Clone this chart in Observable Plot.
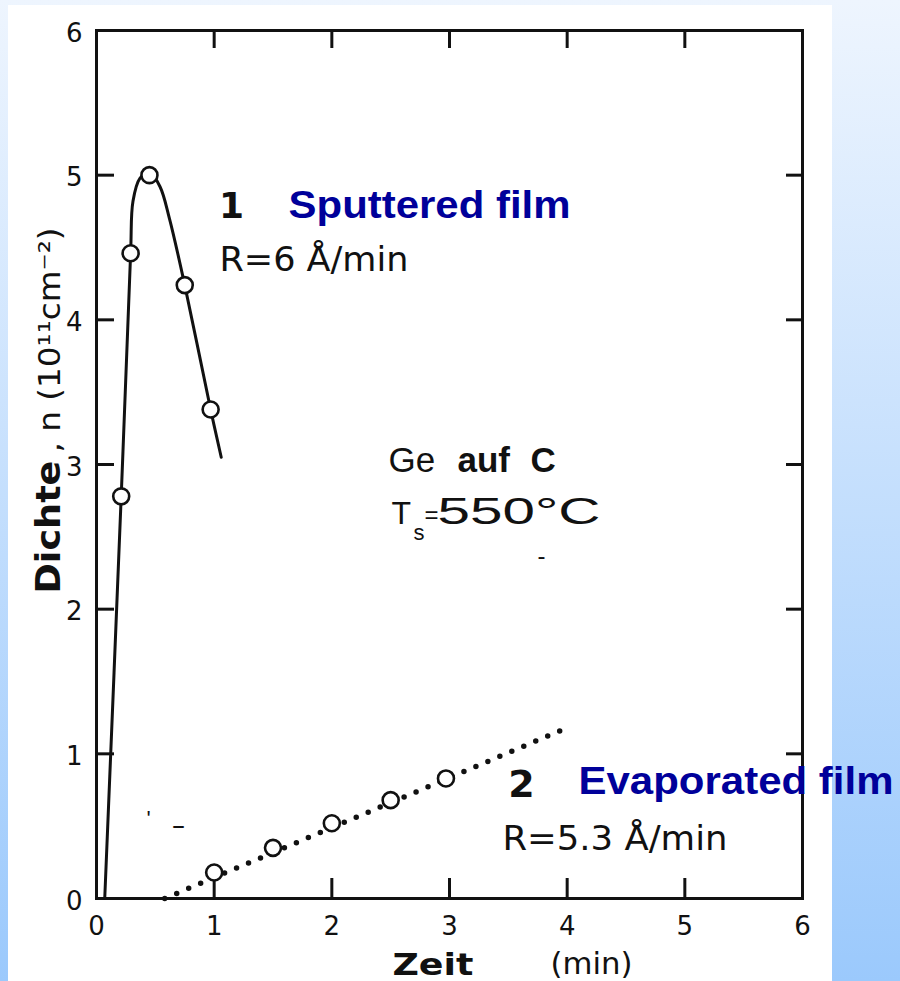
<!DOCTYPE html>
<html>
<head>
<meta charset="utf-8">
<script src="https://cdn.jsdelivr.net/npm/d3@7"></script>
<script src="https://cdn.jsdelivr.net/npm/@observablehq/plot@0.6"></script>
<style>
  html, body { margin: 0; padding: 0; }
  body {
    width: 900px; height: 981px; position: relative; overflow: hidden;
    background: linear-gradient(to bottom, #eef5fe 0%, #9bc9fc 100%);
  }
  #sheet { position: absolute; left: 8px; top: 5px; width: 824px; height: 976px; background: #fff; }
  #chart { position: absolute; left: 0; top: 0; }
</style>
</head>
<body>
<div id="sheet"></div>
<div id="chart"></div>
<script>
// Curve 1: sputtered Ge film, R = 6 Å/min — measured island densities (10^11 cm^-2)
const sputterTime    = [0.21, 0.29, 0.45, 0.75, 0.97];
const sputterDensity = [2.78, 4.46, 5.00, 4.24, 3.38];
// hand-drawn trend through curve 1
const sputterTrendTime    = [0.07, 0.21, 0.29, 0.31, 0.37, 0.45, 0.54, 0.62, 0.75, 0.97, 1.06];
const sputterTrendDensity = [0.00, 2.78, 4.46, 4.82, 4.98, 5.02, 4.92, 4.70, 4.24, 3.38, 3.05];

// Curve 2: evaporated Ge film, R = 5.3 Å/min
const evapTime    = [1.0, 1.5, 2.0, 2.5, 2.97];
const evapDensity = [0.18, 0.35, 0.52, 0.68, 0.83];
// straight dotted fit through curve 2
const evapFitTime    = [0.58, 4.0];
const evapFitDensity = [0.00, 1.18];

// axis ticks (time in min, density in 10^11 cm^-2)
const timeTicks    = [0, 1, 2, 3, 4, 5, 6];
const densityTicks = [0, 1, 2, 3, 4, 5, 6];

const zip = (xs, ys) => xs.map((x, i) => ({x, y: ys[i]}));
const sputterPoints = zip(sputterTime, sputterDensity);
const sputterTrend  = zip(sputterTrendTime, sputterTrendDensity);
const evapPoints    = zip(evapTime, evapDensity);
const evapFit       = zip(evapFitTime, evapFitDensity);

const width = 900, height = 981;
const mL = 96, mR = 98, mT = 30, mB = 83;
const innerW = width - mL - mR, innerH = height - mT - mB;
const tickLen = 18;
const ink = "#111";
const blue = "#00009a";
const lettering = "DejaVu Sans";
const sans = "Liberation Sans";

// text placed inside the plot, in data coordinates
const notes = [
  {text: "1", x: 1.147, y: 4.783, font: lettering, size: 36, weight: "bold", anchor: "middle", line: "middle"},
  {text: "Sputtered film", x: 1.632, y: 4.707, font: sans, size: 39, weight: "bold", fill: blue, len: 282},
  {text: "R=6 Å/min", x: 1.045, y: 4.341, font: lettering, size: 33, len: 189},
  {text: "Ge", x: 2.481, y: 2.945, font: sans, size: 35},
  {text: "auf", x: 3.068, y: 2.945, font: sans, size: 35, weight: "bold"},
  {text: "C", x: 3.688, y: 2.945, font: sans, size: 35, weight: "bold"},
  {text: "T", x: 2.507, y: 2.592, font: sans, size: 32},
  {text: "s", x: 2.694, y: 2.481, font: sans, size: 22},
  {text: "=", x: 2.787, y: 2.599, font: sans, size: 24},
  {text: "550°C", x: 2.898, y: 2.592, font: sans, size: 36, len: 163},
  {text: "-", x: 3.782, y: 2.364, font: sans, size: 24, anchor: "middle", line: "middle"},
  {text: "'", x: 0.442, y: 0.553, font: sans, size: 22, anchor: "middle", line: "middle"},
  {text: "–", x: 0.697, y: 0.505, font: lettering, size: 26, anchor: "middle", line: "middle"},
  {text: "2", x: 3.612, y: 0.788, font: lettering, size: 38, weight: "bold", anchor: "middle", line: "middle"},
  {text: "Evaporated film", x: 4.096, y: 0.719, font: sans, size: 39, weight: "bold", fill: blue, len: 315},
  {text: "R=5.3 Å/min", x: 3.450, y: 0.332, font: lettering, size: 33, len: 225},
  {text: "Zeit", x: 2.515, y: -0.532, font: lettering, size: 30, weight: "bold", len: 81},
  {text: "(min)", x: 3.858, y: -0.525, font: lettering, size: 30, len: 82},
  {text: "Dichte", x: -0.306, y: 2.108, font: lettering, size: 34, weight: "bold", rotate: -90, len: 133},
  {text: ", n (10¹¹cm⁻²)", x: -0.306, y: 3.083, font: lettering, size: 30, rotate: -90, len: 225}
];

const noteMarks = notes.map((n, i) => Plot.text([n], {
  x: "x", y: "y", text: "text",
  fontFamily: n.font, fontSize: n.size, fontWeight: n.weight || "normal",
  fill: n.fill || ink,
  textAnchor: n.anchor || "start",
  lineAnchor: n.line || "bottom",
  rotate: n.rotate || 0,
  ariaDescription: "note-" + i
}));

const inner = densityTicks.filter(v => v > 0 && v < 6);
const innerT = timeTicks.filter(v => v > 0 && v < 6);

const chart = Plot.plot({
  width, height,
  marginLeft: mL, marginRight: mR, marginTop: mT, marginBottom: mB,
  style: {background: "transparent", overflow: "visible", color: ink},
  x: {domain: [0, 6], label: null},
  y: {domain: [0, 6], label: null},
  marks: [
    // inward ticks on all four sides
    Plot.tickY(inner, {y: d => d, insetRight: innerW - tickLen, stroke: ink, strokeWidth: 3}),
    Plot.tickY(inner, {y: d => d, insetLeft: innerW - tickLen + 2, stroke: ink, strokeWidth: 3}),
    Plot.tickX(innerT, {x: d => d, insetBottom: innerH - tickLen, stroke: ink, strokeWidth: 3}),
    Plot.tickX(innerT, {x: d => d, insetTop: innerH - tickLen - 2, stroke: ink, strokeWidth: 3}),
    Plot.frame({stroke: ink, strokeWidth: 3}),
    Plot.axisX(timeTicks, {tickSize: 0, tickPadding: 18, tickFormat: d => String(d), fontSize: 26, fontFamily: lettering, fill: ink, label: null}),
    Plot.axisY(densityTicks, {tickSize: 0, tickPadding: 14, tickFormat: d => String(d), fontSize: 26, fontFamily: lettering, fill: ink, dy: 3, label: null}),
    // curve 1
    Plot.line(sputterTrend, {x: "x", y: "y", curve: "catmull-rom", stroke: ink, strokeWidth: 3}),
    Plot.dot(sputterPoints, {x: "x", y: "y", r: 8, fill: "white", stroke: ink, strokeWidth: 2.6}),
    // curve 2
    Plot.line(evapFit, {x: "x", y: "y", stroke: ink, strokeWidth: 5.5, strokeLinecap: "round", strokeDasharray: "0 13"}),
    Plot.dot(evapPoints, {x: "x", y: "y", r: 8, fill: "white", stroke: ink, strokeWidth: 2.6}),
    ...noteMarks
  ]
});

document.getElementById("chart").appendChild(chart);

// stretch hand-lettered labels to their drawn length
notes.forEach((n, i) => {
  if (!n.len) return;
  const t = chart.querySelector(`g[aria-description="note-${i}"] text`);
  if (t) {
    t.setAttribute("textLength", n.len);
    t.setAttribute("lengthAdjust", "spacingAndGlyphs");
  }
});
</script>
</body>
</html>
